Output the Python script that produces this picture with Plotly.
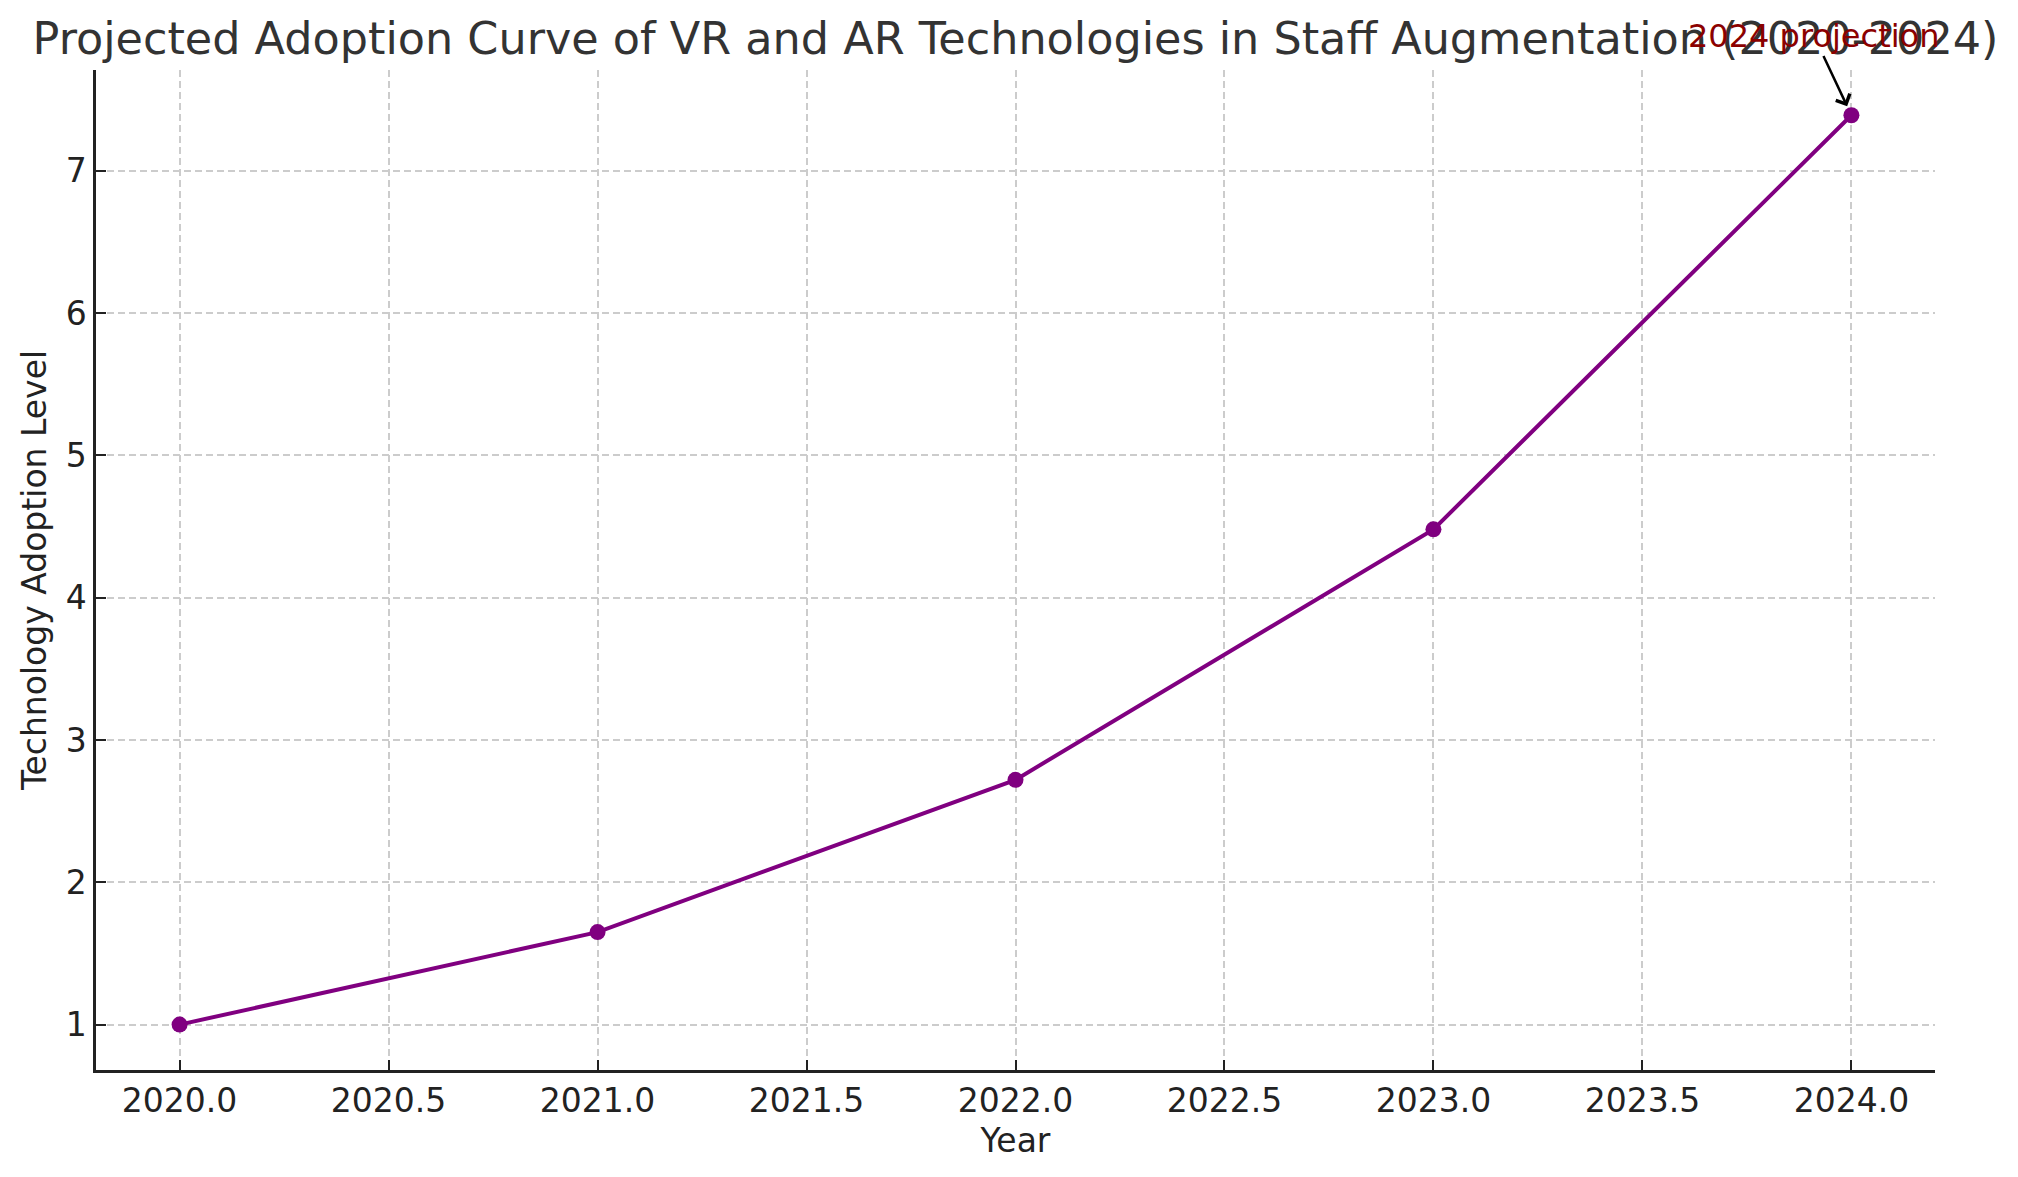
import plotly.graph_objects as go

# Projected adoption levels
years = [2020, 2021, 2022, 2023, 2024]
adoption = [1.00, 1.65, 2.72, 4.48, 7.39]

x_ticks = [2020.0, 2020.5, 2021.0, 2021.5, 2022.0, 2022.5, 2023.0, 2023.5, 2024.0]
y_ticks = [1, 2, 3, 4, 5, 6, 7]

font_family = "DejaVu Sans"
ink = "#222222"

fig = go.Figure(go.Scatter(
    x=years,
    y=adoption,
    mode='lines+markers',
    line=dict(color='purple', width=4),
    marker=dict(color='purple', size=16),
    hoverinfo='skip'
))

# annotation pointing to the 2024 value
fig.add_annotation(
    x=years[-1], y=adoption[-1],
    ax=2023.91, ay=7.95,
    xref='x', yref='y', axref='x', ayref='y',
    text='2024 projection',
    font=dict(family=font_family, size=32, color='darkred'),
    showarrow=True,
    arrowhead=4,
    arrowsize=1.2,
    arrowwidth=2.5,
    arrowcolor='black',
    standoff=10,
)

# page body has an 8px margin, so the figure is 16px smaller than the window
fig.update_layout(
    width=2002,
    height=1161,
    margin=dict(l=88, r=75, t=62, b=99),
    paper_bgcolor='white',
    plot_bgcolor='white',
    showlegend=False,
    font=dict(family=font_family, size=33, color=ink),
    title=dict(
        text='Projected Adoption Curve of VR and AR Technologies in Staff Augmentation (2020-2024)',
        font=dict(family=font_family, size=44.5, color='#333333'),
        x=0.5, xref='paper', xanchor='center',
        y=1 - 30 / 1161, yref='container', yanchor='middle',
    ),
    xaxis=dict(
        title=dict(text='Year', font=dict(size=33, color=ink), standoff=10),
        range=[2019.8, 2024.2],
        tickvals=x_ticks,
        tickformat='.1f',
        ticks='inside', ticklen=10, tickwidth=2, tickcolor=ink,
        showline=True, linecolor=ink, linewidth=2.5,
        showgrid=True, gridcolor='#cccccc', gridwidth=1.8, griddash='7px,4px',
        zeroline=False,
    ),
    yaxis=dict(
        title=dict(text='Technology Adoption Level', font=dict(size=33, color=ink), standoff=10),
        range=[0.681, 7.708],
        tickvals=y_ticks,
        ticks='inside', ticklen=10, tickwidth=2, tickcolor=ink,
        showline=True, linecolor=ink, linewidth=2.5,
        showgrid=True, gridcolor='#cccccc', gridwidth=1.8, griddash='7px,4px',
        zeroline=False,
    ),
)

fig.write_html("out.html")
